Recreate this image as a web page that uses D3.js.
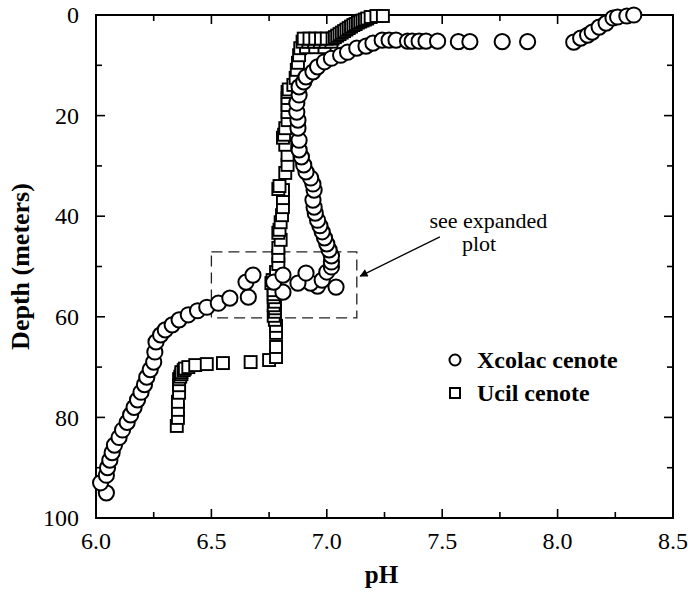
<!DOCTYPE html>
<html>
<head>
<meta charset="utf-8">
<script src="https://cdn.jsdelivr.net/npm/d3@7"></script>
<style>
body { margin: 0; background: #fff; }
svg text { font-family: "Liberation Serif", "Times New Roman", serif; fill: #000; }
</style>
</head>
<body>
<div id="chart"></div>
<script>
// Xcolac cenote (circles): [pH, depth m], surface -> bottom
const xcolac = [
    [8.33, 0.0], [8.30, 0.2], [8.26, 0.4], [8.24, 0.6], [8.21, 1.6], [8.18, 2.4], [8.15, 3.4],
    [8.13, 4.0], [8.10, 4.6], [8.07, 5.4], [7.87, 5.3], [7.76, 5.3], [7.62, 5.3], [7.57, 5.3],
    [7.48, 5.2], [7.43, 5.2], [7.40, 5.2], [7.37, 5.2], [7.35, 5.2], [7.30, 5.0], [7.27, 5.0],
    [7.24, 5.0], [7.20, 5.6], [7.17, 6.2], [7.13, 6.6], [7.09, 7.4], [7.06, 8.0], [7.02, 8.6],
    [6.99, 9.3], [6.96, 10.3], [6.94, 11.3], [6.91, 12.3], [6.90, 13.3], [6.88, 14.3],
    [6.88, 15.9], [6.87, 17.5], [6.87, 19.3], [6.875, 20.9], [6.875, 22.5], [6.88, 24.9],
    [6.88, 26.8], [6.89, 28.2], [6.90, 29.8], [6.91, 31.2], [6.93, 32.4], [6.94, 33.6],
    [6.945, 34.8], [6.94, 36.8], [6.945, 38.2], [6.95, 39.4], [6.96, 40.8], [6.97, 41.9],
    [6.98, 43.1], [6.99, 44.3], [7.00, 45.5], [7.01, 46.7], [7.02, 47.9], [7.02, 49.1],
    [7.02, 50.1], [7.00, 51.1], [6.91, 51.3], [6.81, 51.7], [6.68, 51.7], [6.98, 52.7],
    [6.65, 53.1], [6.77, 53.1], [6.875, 53.3], [6.93, 53.3], [6.96, 53.9], [7.04, 54.1],
    [6.81, 55.1], [6.66, 56.1], [6.58, 56.3], [6.53, 57.3], [6.48, 58.1], [6.44, 58.8],
    [6.40, 59.6], [6.36, 60.6], [6.33, 61.6], [6.30, 62.6], [6.28, 63.6], [6.26, 65.0],
    [6.255, 67.0], [6.25, 69.0], [6.235, 70.5], [6.22, 72.0], [6.21, 73.5], [6.195, 75.0],
    [6.18, 76.5], [6.165, 78.0], [6.15, 79.5], [6.135, 81.0], [6.115, 82.5], [6.10, 84.0],
    [6.08, 85.5], [6.07, 87.0], [6.06, 88.5], [6.05, 90.0], [6.045, 91.5], [6.02, 93.0],
    [6.045, 95.0]
];

// Ucil cenote (squares): [pH, depth m], surface -> bottom
const ucil = [
    [7.243, 0.2], [7.215, 0.2], [7.19, 0.4],
    [7.175, 0.7], [7.165, 0.9], [7.155, 1.1], [7.145, 1.3], [7.135, 1.5], [7.125, 1.8],
    [7.115, 2.0], [7.105, 2.3], [7.095, 2.6], [7.085, 2.9], [7.075, 3.2], [7.065, 3.5],
    [7.055, 3.8], [7.045, 4.1], [7.035, 4.4],
    [7.025, 4.7], [7.00, 4.7], [6.975, 4.7], [6.95, 4.7], [6.925, 4.7], [6.90, 4.7],
    [7.02, 5.3], [6.995, 5.3], [6.97, 5.3], [6.945, 5.3], [6.92, 5.3], [6.895, 5.3],
    [6.99, 6.4], [6.95, 6.4], [6.91, 6.4], [6.885, 6.6],
    [6.88, 8.0], [6.875, 9.5], [6.87, 10.9], [6.865, 12.5], [6.855, 13.9],
    [6.835, 14.8], [6.83, 15.3], [6.83, 16.5], [6.83, 17.9], [6.83, 19.3], [6.83, 20.9],
    [6.82, 22.5], [6.815, 23.8], [6.81, 24.4], [6.82, 25.8], [6.83, 27.8], [6.83, 29.8],
    [6.82, 31.4], [6.795, 34.0], [6.79, 34.6], [6.81, 34.8], [6.81, 36.4], [6.81, 38.2],
    [6.806, 39.8], [6.80, 41.2], [6.795, 42.7], [6.79, 43.3], [6.80, 44.7], [6.79, 46.3],
    [6.79, 47.9], [6.79, 49.5], [6.78, 51.1], [6.765, 52.7], [6.76, 53.3], [6.77, 54.7],
    [6.77, 55.5], [6.77, 56.1], [6.775, 57.0], [6.77, 57.7], [6.775, 58.3], [6.775, 59.0],
    [6.77, 59.8], [6.775, 60.6], [6.78, 61.8], [6.78, 63.2], [6.78, 66.0], [6.78, 68.0],
    [6.75, 68.6], [6.67, 69.0], [6.55, 69.2], [6.48, 69.4], [6.43, 69.6], [6.40, 70.0],
    [6.385, 70.3], [6.38, 70.6], [6.37, 71.0], [6.37, 71.4], [6.365, 71.9], [6.36, 72.4],
    [6.36, 73.6], [6.36, 75.1], [6.355, 76.9], [6.355, 78.5], [6.355, 80.1], [6.35, 81.7]
];

const xTickLabels = [6.0, 6.5, 7.0, 7.5, 8.0, 8.5];
const yTickLabels = [0, 20, 40, 60, 80, 100];
const seriesNames = ['Xcolac cenote', 'Ucil cenote'];

// expanded-plot box: pH range and depth range
const boxPH = [6.5, 7.13];
const boxDepth = [47.1, 60.2];

const width = 688, height = 598;
const margin = {top: 15, right: 15, bottom: 80, left: 96};

const svg = d3.select('#chart').append('svg')
    .attr('width', width)
    .attr('height', height)
    .style('display', 'block');

const x = d3.scaleLinear().domain([6.0, 8.5]).range([margin.left, width - margin.right]);
const y = d3.scaleLinear().domain([0, 100]).range([margin.top, height - margin.bottom]);

const x0 = x.range()[0], x1 = x.range()[1];
const y0 = y.range()[0], y1 = y.range()[1];

// ticks on all four sides, pointing in
const ticks = svg.append('g').attr('stroke', '#000').attr('stroke-width', 1.6);
d3.range(6.0, 8.5001, 0.25).forEach((v, i) => {
    const len = i % 2 === 0 ? 9 : 6;
    ticks.append('line').attr('x1', x(v)).attr('x2', x(v)).attr('y1', y1).attr('y2', y1 - len);
    ticks.append('line').attr('x1', x(v)).attr('x2', x(v)).attr('y1', y0).attr('y2', y0 + len);
});
d3.range(0, 100.001, 10).forEach((v, i) => {
    const len = i % 2 === 0 ? 9 : 6;
    ticks.append('line').attr('x1', x0).attr('x2', x0 + len).attr('y1', y(v)).attr('y2', y(v));
    ticks.append('line').attr('x1', x1).attr('x2', x1 - len).attr('y1', y(v)).attr('y2', y(v));
});

svg.append('rect')
    .attr('x', x0).attr('y', y0)
    .attr('width', x1 - x0).attr('height', y1 - y0)
    .attr('fill', 'none').attr('stroke', '#000').attr('stroke-width', 2);

// tick labels
svg.append('g').selectAll('text')
    .data(xTickLabels)
    .enter().append('text')
    .attr('x', d => x(d))
    .attr('y', y1 + 31)
    .attr('text-anchor', 'middle')
    .attr('font-size', 24)
    .text(d => d.toFixed(1));

svg.append('g').selectAll('text')
    .data(yTickLabels)
    .enter().append('text')
    .attr('x', x0 - 17)
    .attr('y', d => y(d))
    .attr('dy', '0.34em')
    .attr('text-anchor', 'end')
    .attr('font-size', 24)
    .text(d => d);

// axis titles
svg.append('text')
    .attr('x', (x0 + x1) / 2 - 3)
    .attr('y', 583)
    .attr('text-anchor', 'middle')
    .attr('font-size', 25)
    .attr('font-weight', 'bold')
    .text('pH');

svg.append('text')
    .attr('transform', `translate(29,${(y0 + y1) / 2}) rotate(-90)`)
    .attr('text-anchor', 'middle')
    .attr('font-size', 26)
    .attr('font-weight', 'bold')
    .text('Depth (meters)');

// dashed box around the expanded region
svg.append('rect')
    .attr('x', x(boxPH[0])).attr('y', y(boxDepth[0]))
    .attr('width', x(boxPH[1]) - x(boxPH[0]))
    .attr('height', y(boxDepth[1]) - y(boxDepth[0]))
    .attr('fill', 'none').attr('stroke', '#222').attr('stroke-width', 1.3)
    .attr('stroke-dasharray', '11,6');

// data: deepest first so shallower markers sit on top
const sq = 12;

svg.append('g').selectAll('rect')
    .data(ucil.slice().reverse())
    .enter().append('rect')
    .attr('x', d => x(d[0]) - sq / 2)
    .attr('y', d => y(d[1]) - sq / 2)
    .attr('width', sq).attr('height', sq)
    .attr('fill', '#fff').attr('stroke', '#000').attr('stroke-width', 1.9);

svg.append('g').selectAll('circle')
    .data(xcolac.slice().reverse())
    .enter().append('circle')
    .attr('cx', d => x(d[0]))
    .attr('cy', d => y(d[1]))
    .attr('r', 7.6)
    .attr('fill', '#fff').attr('stroke', '#000').attr('stroke-width', 2);

// annotation
svg.append('text')
    .attr('x', x(7.70)).attr('y', y(42.3))
    .attr('text-anchor', 'middle')
    .attr('font-size', 22)
    .text('see expanded');
svg.append('text')
    .attr('x', x(7.66)).attr('y', y(47.0))
    .attr('text-anchor', 'middle')
    .attr('font-size', 22)
    .text('plot');

svg.append('defs').append('marker')
    .attr('id', 'head')
    .attr('viewBox', '0 0 10 10')
    .attr('refX', 9).attr('refY', 5)
    .attr('markerWidth', 11).attr('markerHeight', 8)
    .attr('markerUnits', 'userSpaceOnUse')
    .attr('orient', 'auto')
    .append('path').attr('d', 'M0,0 L10,5 L0,10 Z').attr('fill', '#000');
svg.append('line')
    .attr('x1', x(7.49)).attr('y1', y(44.1))
    .attr('x2', x(7.145)).attr('y2', y(51.9))
    .attr('stroke', '#000').attr('stroke-width', 1.3)
    .attr('marker-end', 'url(#head)');

// legend
const legend = svg.append('g');
legend.append('circle')
    .attr('cx', 455).attr('cy', 360).attr('r', 5.5)
    .attr('fill', '#fff').attr('stroke', '#000').attr('stroke-width', 2);
legend.append('rect')
    .attr('x', 450).attr('y', 388).attr('width', 10).attr('height', 10)
    .attr('fill', '#fff').attr('stroke', '#000').attr('stroke-width', 2);
legend.selectAll('text')
    .data(seriesNames)
    .enter().append('text')
    .attr('x', 477)
    .attr('y', (d, i) => 368 + i * 33)
    .attr('font-size', 24)
    .attr('font-weight', 'bold')
    .text(d => d);
</script>
</body>
</html>
